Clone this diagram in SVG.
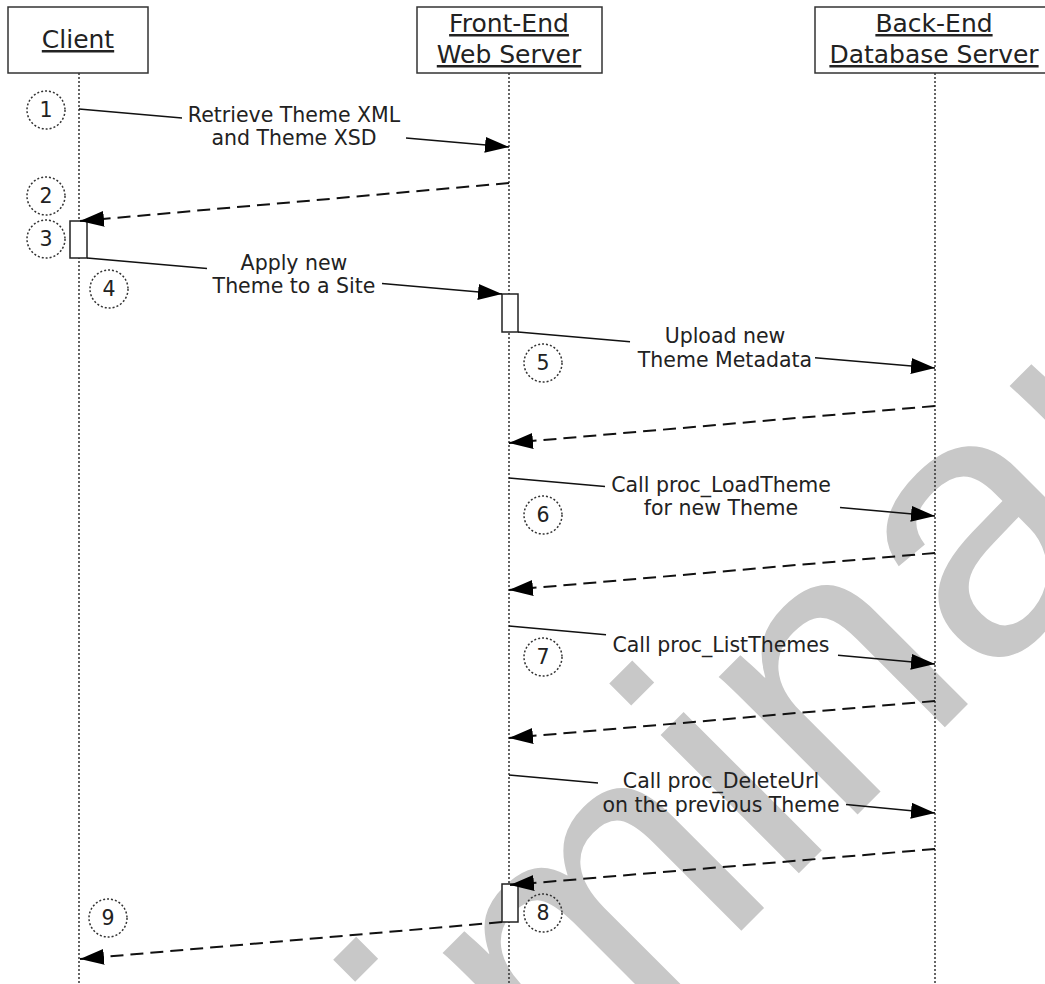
<svg xmlns="http://www.w3.org/2000/svg" width="1045" height="984" viewBox="0 0 1045 984">
<defs>
<style>
.wm{font-family:"Liberation Sans",Arial,sans-serif;font-size:370px;fill:#c8c8c8}
.ll{stroke:#333;stroke-width:1.5;stroke-dasharray:2,2;fill:none}
.box{fill:#fff;stroke:#333;stroke-width:1.5}
.act{fill:#fff;stroke:#222;stroke-width:1.5}
.msg{stroke:#111;stroke-width:1.5;fill:none}
.ret{stroke:#111;stroke-width:2;stroke-dasharray:13,7;fill:none}
.num{stroke:#333;stroke-width:1.5;stroke-dasharray:2,2;fill:none}
.hd{font-family:"DejaVu Sans",Verdana,sans-serif;font-size:25px;fill:#222;text-anchor:middle;text-decoration:underline}
.lbl{font-family:"DejaVu Sans",Verdana,sans-serif;font-size:20.5px;fill:#222;text-anchor:middle}
</style>
<marker id="ah" markerUnits="userSpaceOnUse" markerWidth="24" markerHeight="16" refX="24" refY="8" orient="auto">
<path d="M0,0 L24,8 L0,16 z" fill="#000"/>
</marker>
</defs>
<rect width="1045" height="984" fill="#fff"/>
<g id="watermark">
<text class="wm" transform="translate(40,1632) rotate(-45)">Preliminary</text>
</g>
<g id="lifelines">
<line class="ll" x1="79" y1="73" x2="79" y2="984"/>
<line class="ll" x1="509" y1="73" x2="509" y2="984"/>
<line class="ll" x1="935" y1="73" x2="935" y2="984"/>
</g>
<g id="client">
<rect class="box" x="8" y="7" width="140" height="66"/>
<text class="hd" x="78" y="48">Client</text>
</g>
<g id="frontend">
<rect class="box" x="417" y="7" width="185" height="66"/>
<text class="hd" x="509" y="32">Front-End</text>
<text class="hd" x="509" y="63">Web Server</text>
</g>
<g id="backend">
<rect class="box" x="815" y="7" width="238" height="66"/>
<text class="hd" x="934" y="32">Back-End</text>
<text class="hd" x="934" y="63">Database Server</text>
</g>
<g id="activations">
<rect class="act" x="70" y="221" width="17" height="37"/>
<rect class="act" x="502" y="294" width="16" height="38"/>
<rect class="act" x="502" y="884" width="16" height="38"/>
</g>
<g id="connectors">
<line class="msg" x1="79" y1="109" x2="182" y2="118.1"/>
<line class="msg" x1="406" y1="137.9" x2="509" y2="147" marker-end="url(#ah)"/>
<line class="ret" x1="509" y1="183" x2="80" y2="221" marker-end="url(#ah)"/>
<line class="msg" x1="87" y1="258" x2="207" y2="268.4"/>
<line class="msg" x1="382" y1="283.6" x2="502" y2="294" marker-end="url(#ah)"/>
<line class="msg" x1="518" y1="332" x2="630" y2="341.7"/>
<line class="msg" x1="815" y1="357.8" x2="935" y2="368" marker-end="url(#ah)"/>
<line class="ret" x1="935" y1="406" x2="509" y2="443" marker-end="url(#ah)"/>
<line class="msg" x1="509" y1="478" x2="605" y2="486.6"/>
<line class="msg" x1="840" y1="507.5" x2="935" y2="516" marker-end="url(#ah)"/>
<line class="ret" x1="935" y1="553" x2="509" y2="590" marker-end="url(#ah)"/>
<line class="msg" x1="509" y1="626" x2="606" y2="634.7"/>
<line class="msg" x1="838" y1="655.3" x2="935" y2="664" marker-end="url(#ah)"/>
<line class="ret" x1="935" y1="701" x2="509" y2="738" marker-end="url(#ah)"/>
<line class="msg" x1="509" y1="775" x2="598" y2="783"/>
<line class="msg" x1="846" y1="804.5" x2="935" y2="813" marker-end="url(#ah)"/>
<line class="ret" x1="935" y1="849" x2="510" y2="885" marker-end="url(#ah)"/>
<line class="ret" x1="502" y1="922" x2="80" y2="959" marker-end="url(#ah)"/>
</g>
<g id="labels">
<text class="lbl" x="294" y="122">Retrieve Theme XML</text>
<text class="lbl" x="294" y="145">and Theme XSD</text>
<text class="lbl" x="294" y="270">Apply new</text>
<text class="lbl" x="294" y="293">Theme to a Site</text>
<text class="lbl" x="725" y="343">Upload new</text>
<text class="lbl" x="725" y="367">Theme Metadata</text>
<text class="lbl" x="721" y="492">Call proc_LoadTheme</text>
<text class="lbl" x="721" y="515">for new Theme</text>
<text class="lbl" x="721" y="652">Call proc_ListThemes</text>
<text class="lbl" x="721" y="788">Call proc_DeleteUrl</text>
<text class="lbl" x="721" y="812">on the previous Theme</text>
</g>
<g id="step1"><circle class="num" cx="46" cy="110" r="19"/><text class="lbl" x="46" y="117">1</text></g>
<g id="step2"><circle class="num" cx="46" cy="196" r="19"/><text class="lbl" x="46" y="203">2</text></g>
<g id="step3"><circle class="num" cx="46" cy="239" r="19"/><text class="lbl" x="46" y="246">3</text></g>
<g id="step4"><circle class="num" cx="109" cy="289" r="19"/><text class="lbl" x="109" y="296">4</text></g>
<g id="step5"><circle class="num" cx="543" cy="363" r="19"/><text class="lbl" x="543" y="370">5</text></g>
<g id="step6"><circle class="num" cx="543" cy="515" r="19"/><text class="lbl" x="543" y="522">6</text></g>
<g id="step7"><circle class="num" cx="543" cy="657" r="19"/><text class="lbl" x="543" y="664">7</text></g>
<g id="step8"><circle class="num" cx="543" cy="913" r="19"/><text class="lbl" x="543" y="920">8</text></g>
<g id="step9"><circle class="num" cx="108" cy="918" r="19"/><text class="lbl" x="108" y="925">9</text></g>
</svg>
